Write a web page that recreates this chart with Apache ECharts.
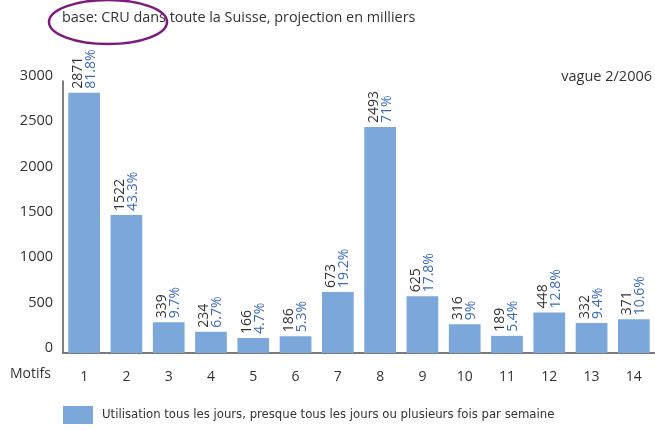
<!DOCTYPE html>
<html><head><meta charset="utf-8">
<script src="https://cdn.jsdelivr.net/npm/echarts@6/dist/echarts.min.js"></script>
<style>html,body{margin:0;padding:0;background:#fff}#c{width:655px;height:430px}</style>
</head><body><div id="c"></div>
<script>
const categories = ['1','2','3','4','5','6','7','8','9','10','11','12','13','14'];
const values = [2871, 1522, 339, 234, 166, 186, 673, 2493, 625, 316, 189, 448, 332, 371];
const percents = ['81.8%','43.3%','9.7%','6.7%','4.7%','5.3%','19.2%','71%','17.8%','9%','5.4%','12.8%','9.4%','10.6%'];
const yTicks = [0, 500, 1000, 1500, 2000, 2500, 3000];
const seriesName = 'Utilisation tous les jours, presque tous les jours ou plusieurs fois par semaine';
const subtitle = 'base: CRU dans toute la Suisse, projection en milliers';
const waveNote = 'vague 2/2006';
const axisTitle = 'Motifs';

const font = 'Open Sans, Noto Sans, sans-serif';
const chart = echarts.init(document.getElementById('c'), null, {renderer: 'canvas'});
chart.setOption({
  animation: false,
  textStyle: {fontFamily: font},
  grid: {left: 63, top: 81, bottom: 77, width: 595, containLabel: false},
  legend: {
    left: 63, top: 406, padding: 0, itemWidth: 30, itemHeight: 18, itemGap: 10,
    icon: 'rect',
    itemStyle: {borderWidth: 0},
    textStyle: {fontFamily: 'Liberation Sans Narrow, DejaVu Sans Condensed, sans-serif', fontSize: 13, color: '#333', padding: [4,0,0,4]},
    data: [seriesName]
  },
  xAxis: {
    type: 'category', data: categories,
    axisLine: {lineStyle: {color: '#7a7a7a', width: 2}},
    axisTick: {show: false},
    axisLabel: {fontSize: 14, color: '#333', margin: 17, fontFamily: font}
  },
  yAxis: {
    type: 'value', min: yTicks[0], max: yTicks[yTicks.length-1], interval: 500,
    axisLine: {show: true, lineStyle: {color: '#555', width: 1.5}},
    axisTick: {show: false},
    splitLine: {show: false},
    axisLabel: {fontSize: 14.5, color: '#333', margin: 10, fontFamily: font,
      formatter: v => String(v),
      verticalAlign: 'bottom', lineHeight: 10}
  },
  series: [{
    name: seriesName, type: 'bar', data: values,
    barCategoryGap: '25%',
    itemStyle: {color: '#7ba7da'},
    label: {
      show: true, position: 'top', rotate: 90, distance: 4,
      align: 'left', verticalAlign: 'middle',
      formatter: p => '{a|' + p.value + '}\n{b|' + percents[p.dataIndex] + '}',
      rich: {
        a: {fontSize: 14, color: '#333', lineHeight: 13, fontFamily: font},
        b: {fontSize: 14, color: '#3a68bd', lineHeight: 13, fontFamily: font}
      }
    }
  }],
  graphic: [
    {type: 'text', left: 62, top: 11, style: {text: subtitle, fontSize: 14.4, fill: '#333', fontFamily: font}},
    {type: 'ellipse', shape: {cx: 108, cy: 22, rx: 59, ry: 22}, style: {fill: 'none', stroke: '#7d1a80', lineWidth: 2.5}},
    {type: 'text', right: 3, top: 69, style: {text: waveNote, fontSize: 14.5, fill: '#333', fontFamily: font}},
    {type: 'text', left: 10, top: 367, style: {text: axisTitle, fontSize: 14, fill: '#333', fontFamily: font}}
  ]
});
</script></body></html>
